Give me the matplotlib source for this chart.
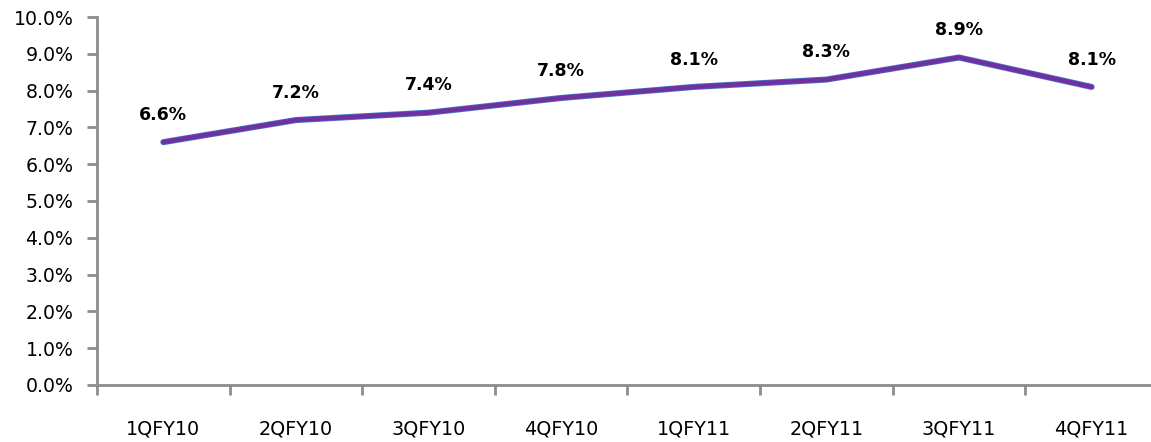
import matplotlib
matplotlib.use("Agg")
import matplotlib.pyplot as plt
from matplotlib.ticker import FixedLocator, PercentFormatter

quarters = ["1QFY10", "2QFY10", "3QFY10", "4QFY10", "1QFY11", "2QFY11", "3QFY11", "4QFY11"]
ratio = [6.6, 7.2, 7.4, 7.8, 8.1, 8.3, 8.9, 8.1]
y_ticks = [0, 1, 2, 3, 4, 5, 6, 7, 8, 9, 10]

plt.rcParams["font.family"] = ["DejaVu Sans"]

fig = plt.figure(figsize=(11.51, 4.42), dpi=100)
ax = fig.add_axes([0.0843, 0.129, 0.9217, 0.8325])

x = list(range(len(quarters)))
# blue edge under a purple line
ax.plot(x, ratio, color="#4472C4", lw=4.4, solid_capstyle="round", solid_joinstyle="round", zorder=3)
ax.plot(x, ratio, color="#7030A0", lw=3.2, solid_capstyle="round", solid_joinstyle="round", zorder=4)

for xi, v in zip(x, ratio):
    ax.annotate(f"{v:.1f}%", (xi, v), xytext=(0, 16), textcoords="offset points",
                ha="center", va="baseline", fontsize=12.5, fontweight="bold", color="#000000")

ax.set_xlim(-0.5, 7.5)
ax.set_ylim(0, 10)
ax.set_xticks(x)
ax.set_xticklabels(quarters)
ax.xaxis.set_minor_locator(FixedLocator([i - 0.5 for i in range(len(quarters) + 1)]))
ax.tick_params(axis="x", which="major", length=0, pad=25, labelsize=13.8)
ax.tick_params(axis="x", which="minor", length=7, width=2, color="#8C8C8C", direction="out")
ax.set_yticks(y_ticks)
ax.yaxis.set_major_formatter(PercentFormatter(decimals=1))
ax.tick_params(axis="y", length=7, width=2, color="#8C8C8C", pad=10, labelsize=13.6)

for side in ("top", "right"):
    ax.spines[side].set_visible(False)
for side in ("left", "bottom"):
    ax.spines[side].set_color("#8C8C8C")
    ax.spines[side].set_linewidth(2)

fig.savefig("out.png", dpi=100)
